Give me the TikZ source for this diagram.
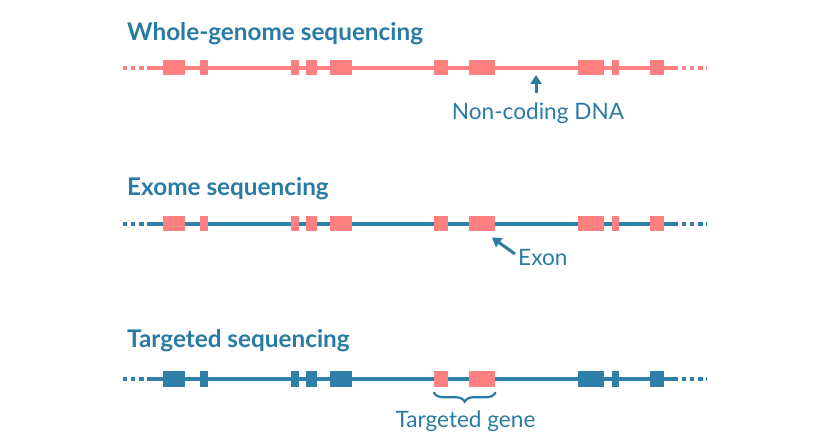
\documentclass[tikz,border=0pt]{standalone}
\usepackage{fontspec}
\setmainfont{Lato}
\usetikzlibrary{decorations.pathreplacing,arrows.meta}
\definecolor{dnablue}{HTML}{2E80A8}
\definecolor{exonpink}{HTML}{FF8080}
\definecolor{txtblue}{HTML}{2A7BA4}
\begin{document}
\begin{tikzpicture}[x=1pt,y=-1pt,
  exonbox/.style={rectangle,inner sep=0pt,minimum height=15pt,anchor=west,draw=none},
  strand/.style={line width=4.6pt},
  dotted end/.style={line width=4.6pt,dash pattern=on 4.3pt off 3.8pt},
  title/.style={anchor=base west,inner sep=0pt,text=txtblue,font=\fontsize{24.3}{28}\selectfont\bfseries},
  label/.style={anchor=base,inner sep=0pt,text=txtblue,font=\fontsize{22.6}{26}\selectfont},
  pointer/.style={draw=txtblue,line width=3pt,-{Triangle[length=9pt,width=11pt]}}
]
\useasboundingbox (0,0) rectangle (827,443);
% gene row: #1 row name, #2 y, #3 strand colour, #4 exon colour, #5 colour of exons 6 and 7
\newcommand{\generow}[5]{%
  \draw[strand,#3] (148,#2) -- (678,#2);
  \draw[dotted end,#3] (123,#2) -- (148,#2);
  \draw[dotted end,#3] (682,#2) -- (707,#2);
  \node[exonbox,fill=#4,minimum width=22pt] (#1e1) at (163,#2) {};
  \node[exonbox,fill=#4,minimum width=8pt] (#1e2) at (200,#2) {};
  \node[exonbox,fill=#4,minimum width=8.5pt] (#1e3) at (290.5,#2) {};
  \node[exonbox,fill=#4,minimum width=11pt] (#1e4) at (306,#2) {};
  \node[exonbox,fill=#4,minimum width=21.5pt] (#1e5) at (330,#2) {};
  \node[exonbox,fill=#5,minimum width=13.5pt] (#1e6) at (434,#2) {};
  \node[exonbox,fill=#5,minimum width=26.5pt] (#1e7) at (468.5,#2) {};
  \node[exonbox,fill=#4,minimum width=25.5pt] (#1e8) at (578,#2) {};
  \node[exonbox,fill=#4,minimum width=7pt] (#1e9) at (612,#2) {};
  \node[exonbox,fill=#4,minimum width=14.5pt] (#1e10) at (649.5,#2) {};
}
% Whole genome
\node[title] (t1) at (127,41) {Whole-genome sequencing};
\generow{a}{68}{exonpink}{exonpink}{exonpink}
\coordinate (nctip) at (536,75);
\node[label] (nc) at (538,120) {Non-coding DNA};
\draw[pointer] (536,93) -- (nctip);
% Exome
\node[title] (t2) at (127,196) {Exome sequencing};
\generow{b}{224}{dnablue}{exonpink}{exonpink}
\node[label,anchor=base west] (ex) at (518,266) {Exon};
\coordinate (extail) at (515,254);
\draw[pointer] (extail) -- (492,237.5);
% Targeted
\node[title] (t3) at (127,348) {Targeted sequencing};
\generow{c}{379}{dnablue}{dnablue}{exonpink}
\draw[draw=txtblue,line width=2.2pt,line cap=round,decorate,decoration={brace,amplitude=9pt,aspect=0.5}]
  ([yshift=-6pt]ce7.south east) -- ([yshift=-6pt]ce6.south west);
\node[label] (tg) at (465.5,427) {Targeted gene};
\end{tikzpicture}
\end{document}
